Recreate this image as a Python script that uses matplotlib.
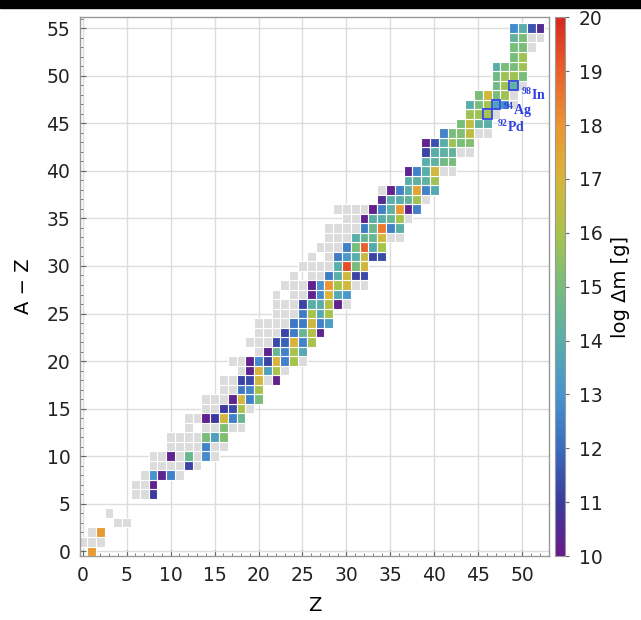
import numpy as np
import matplotlib
matplotlib.use("Agg")
import matplotlib.pyplot as plt
from matplotlib.colors import LinearSegmentedColormap, Normalize
from matplotlib.patches import Rectangle
from matplotlib.ticker import MultipleLocator

plt.rcParams['font.family'] = ['DejaVu Sans']
plt.rcParams['mathtext.fontset'] = 'custom'
plt.rcParams['mathtext.rm'] = 'Liberation Serif'
plt.rcParams['mathtext.bf'] = 'Liberation Serif:bold'

# measured cells: (A - Z, list of Z, log dm [g])
measured = [
    (0, [1], [17.8]),
    (2, [2], [17.8]),
    (6, [8], [11.0]),
    (7, [8], [10.2]),
    (8, [8, 9, 10], [13.0, 10.3, 12.5]),
    (9, [12], [11.2]),
    (10, [10, 12, 14], [10.3, 14.5, 12.8]),
    (11, [14], [12.6]),
    (12, [14, 15, 16], [15.0, 13.5, 15.2]),
    (13, [16], [15.2]),
    (14, [14, 15, 16, 17, 18], [10.2, 11.0, 16.8, 12.5, 14.5]),
    (15, [16, 17, 18], [11.0, 11.3, 16.0]),
    (16, [17, 18, 19, 20], [10.3, 16.8, 12.5, 15.0]),
    (17, [18, 19, 20], [12.3, 12.6, 16.0]),
    (18, [18, 19, 20, 22], [11.2, 11.3, 16.8, 10.2]),
    (19, [19, 20, 21, 22], [10.3, 17.0, 13.5, 16.0]),
    (20, [19, 20, 21, 22, 23, 24], [10.2, 12.7, 11.2, 17.0, 12.5, 16.0]),
    (21, [21, 22, 23, 24, 25], [10.3, 14.5, 12.5, 16.0, 13.8]),
    (22, [22, 23, 24, 25, 26], [11.3, 11.8, 17.0, 12.6, 16.0]),
    (23, [23, 24, 25, 26, 27], [11.2, 12.4, 14.5, 16.2, 10.3]),
    (24, [24, 25, 26, 27, 28], [12.3, 12.4, 16.8, 12.5, 13.3]),
    (25, [25, 26, 27, 28], [12.4, 16.0, 13.8, 16.0]),
    (26, [25, 26, 27, 28, 29], [11.2, 14.0, 14.0, 16.2, 10.2]),
    (27, [26, 27, 28, 29, 30], [10.3, 12.8, 17.0, 13.8, 13.2]),
    (28, [26, 27, 28, 29, 30], [10.2, 13.0, 18.0, 16.0, 16.8]),
    (29, [28, 29, 30, 31, 32], [12.4, 14.0, 16.8, 11.2, 11.3]),
    (30, [29, 30, 31, 32], [14.0, 19.3, 15.0, 16.8]),
    (31, [29, 30, 31, 32, 33, 34], [12.4, 13.2, 14.0, 16.7, 11.2, 11.4]),
    (32, [30, 31, 32, 33, 34], [12.5, 15.0, 19.0, 13.8, 16.0]),
    (33, [31, 32, 33, 34], [14.0, 14.5, 14.5, 16.8]),
    (34, [32, 33, 34, 35, 36], [12.4, 14.6, 18.5, 12.5, 14.0]),
    (35, [32, 33, 34, 35, 36], [10.2, 14.0, 14.0, 14.5, 16.0]),
    (36, [33, 34, 35, 36, 37, 38], [10.2, 12.5, 14.2, 17.8, 10.2, 12.5]),
    (37, [34, 35, 36, 37, 38], [10.5, 14.0, 14.0, 14.3, 15.8]),
    (38, [35, 36, 37, 38, 39, 40], [10.2, 12.5, 14.0, 17.5, 12.5, 13.8]),
    (39, [37, 38, 39, 40], [14.0, 14.2, 14.2, 15.8]),
    (40, [37, 38, 39, 40], [10.3, 12.5, 14.0, 16.8]),
    (41, [39, 40, 41, 42], [14.0, 14.2, 14.8, 15.0]),
    (42, [39, 40, 41, 42], [11.2, 14.0, 14.2, 14.3]),
    (43, [39, 40, 41, 42, 43, 44], [10.2, 11.5, 14.0, 15.8, 15.0, 15.2]),
    (44, [41, 42, 43, 44], [12.6, 15.0, 15.2, 16.5]),
    (45, [43, 44, 45, 46], [15.0, 16.5, 14.3, 14.0]),
    (46, [44, 45, 46], [15.8, 15.8, 16.0]),
    (47, [44, 45, 46, 47, 48], [14.0, 15.0, 16.0, 13.5, 12.8]),
    (48, [45, 46, 47, 48], [15.0, 16.8, 15.0, 15.8]),
    (49, [47, 48, 49], [14.8, 15.8, 14.2]),
    (50, [47, 48, 49, 50], [14.8, 15.8, 15.8, 15.0]),
    (51, [47, 48, 49, 50], [14.0, 15.0, 15.0, 15.8]),
    (52, [49, 50], [15.0, 15.8]),
    (53, [49, 50], [15.0, 15.0]),
    (54, [49, 50], [14.3, 15.0]),
    (55, [49, 50, 51, 52], [12.8, 14.0, 11.5, 10.5]),
]

# known nuclei without a value (grey cells): (A - Z, list of Z)
unmeasured = [
    (1, [0, 1, 2]), (2, [1]), (3, [4, 5]), (4, [3]),
    (6, [6, 7]), (7, [6, 7]), (8, [7, 11]), (9, [8, 9, 10, 11, 13]),
    (10, [8, 9, 11, 13, 15]), (11, [10, 11, 12, 13, 15, 16]),
    (12, [10, 11, 12, 13]), (13, [12, 14, 15, 17, 18]), (14, [12, 13]),
    (15, [14, 15, 19]), (16, [14, 15, 16]), (17, [16, 17]),
    (18, [16, 17, 21]), (19, [18, 23]), (20, [17, 18, 25]), (21, [20]),
    (22, [19, 20, 21]), (23, [20, 21, 22]), (24, [20, 21, 22, 23]),
    (25, [22, 23, 24]), (26, [22, 23, 24, 30]), (27, [22, 24, 25]),
    (28, [23, 24, 25, 31, 32]), (29, [24, 26, 27]), (30, [25, 26, 27, 28]),
    (31, [26, 28]), (32, [27, 28, 29]), (33, [28, 29, 30, 35, 36]),
    (34, [28, 29, 30, 31]), (35, [30, 31, 37]), (36, [29, 30, 31, 32]),
    (37, [39]), (38, [34]), (40, [41, 42]), (42, [43, 44]), (44, [45, 46]),
    (46, [47]), (47, [49]), (48, [49]), (49, [50]), (53, [51]), (54, [51, 52]),
]

# highlighted nuclides: (Z, A - Z, mass number, element)
highlighted = [(49, 49, '98', 'In'), (47, 47, '94', 'Ag'), (46, 46, '92', 'Pd')]
label_pos = [(49.9, 48.0), (47.8, 46.3), (47.1, 44.6)]

cmap = LinearSegmentedColormap.from_list('dm', [
    '#6a1b8a', '#3b3b9e', '#3a6cc0', '#4795cf', '#59aeaa', '#78bd7c',
    '#a8c34a', '#d8b53a', '#ec9532', '#ea612b', '#d8281f'])
norm = Normalize(vmin=10, vmax=20)

fig = plt.figure(figsize=(6.41, 6.2), dpi=100)
ax = fig.add_axes([0.1248, 0.1032, 0.7312, 0.8689])
cax = fig.add_axes([0.8658, 0.1032, 0.0156, 0.8689])

ax.grid(True, color='#dddddd', linewidth=1.0)
ax.set_axisbelow(True)

for n, zs in unmeasured:
    ax.bar(zs, 1, width=1, bottom=n - 0.5, color='#dcdcdc',
           edgecolor='white', linewidth=0.8, zorder=2)

for n, zs, vals in measured:
    ax.bar(zs, 1, width=1, bottom=n - 0.5, color=cmap(norm(np.array(vals))),
           edgecolor='white', linewidth=0.8, zorder=3)

for (z, n, a, el), (tx, ty) in zip(highlighted, label_pos):
    ax.add_patch(Rectangle((z - 0.5, n - 0.5), 1, 1, fill=False,
                           edgecolor='#3446e6', linewidth=1.3, zorder=4))
    ax.text(tx, ty, r'$\mathbf{^{%s}%s}$' % (a, el), color='#2f3fe0',
            fontsize=10, va='center', ha='left', zorder=5)

ax.set_xlim(-0.3, 53)
ax.set_ylim(-0.5, 56.15)
ax.xaxis.set_major_locator(MultipleLocator(5))
ax.yaxis.set_major_locator(MultipleLocator(5))
ax.xaxis.set_minor_locator(MultipleLocator(1))
ax.yaxis.set_minor_locator(MultipleLocator(1))
ax.tick_params(which='both', direction='in', colors='#666666', labelcolor='#222222')
ax.tick_params(which='major', length=4, labelsize=13.5, pad=7)
ax.tick_params(which='minor', length=2)
for sp in ax.spines.values():
    sp.set_color('#999999')
    sp.set_linewidth(1.0)

ax.set_xlabel('Z', fontsize=14, labelpad=8)
ax.set_ylabel('A − Z', fontsize=14, labelpad=10)

sm = plt.cm.ScalarMappable(cmap=cmap, norm=norm)
cb = fig.colorbar(sm, cax=cax, ticks=range(10, 21))
cb.outline.set_edgecolor('#999999')
cb.ax.tick_params(labelsize=13.5, length=3, pad=7, colors='#666666', labelcolor='#222222')
cb.set_label('log Δm [g]', fontsize=14, labelpad=6)

fig.add_artist(Rectangle((0, 1 - 8 / 620), 1, 8 / 620, transform=fig.transFigure,
                         color='black', zorder=10))

fig.savefig('out.png', dpi=100, facecolor='white')
